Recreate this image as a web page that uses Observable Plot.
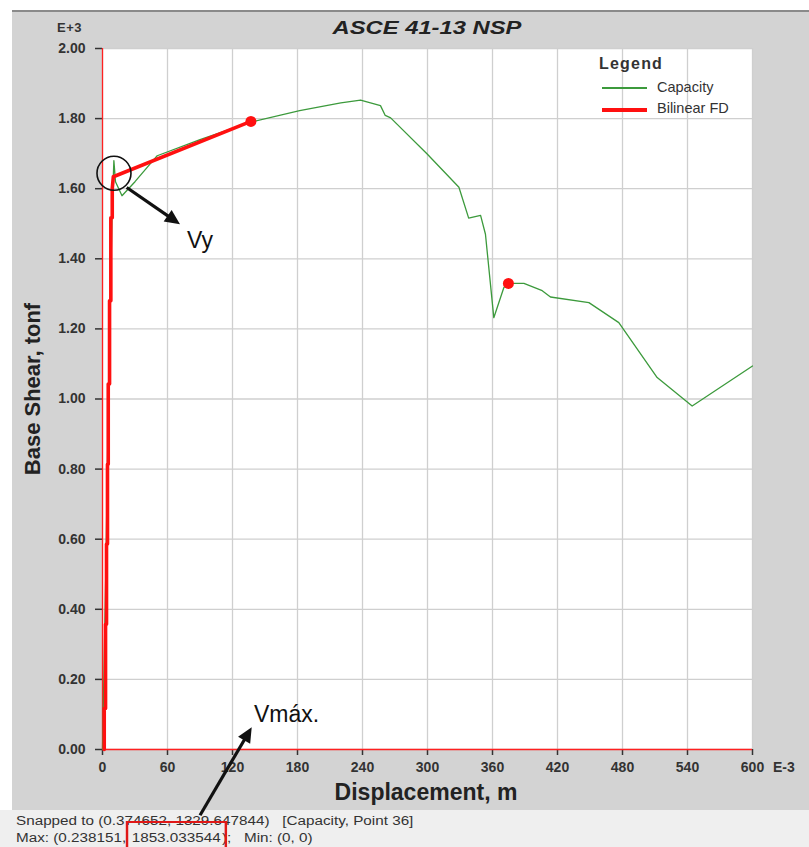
<!DOCTYPE html>
<html><head><meta charset="utf-8">
<script src="https://cdn.jsdelivr.net/npm/d3@7"></script>
<script src="https://cdn.jsdelivr.net/npm/@observablehq/plot@0.6"></script>
<style>
body{margin:0;background:#fff;font-family:"Liberation Sans",Arial,sans-serif;}
#wrap{position:relative;width:809px;height:847px;overflow:hidden;}
.abs{position:absolute;white-space:nowrap;line-height:1;}
.stat{transform-origin:0 0;transform:scaleX(1.22);}
</style></head><body>
<div id="wrap">
  <div class="abs" style="left:12px;top:10px;width:797px;height:800px;background:#d3d3d3;border-top:2px solid #8a8a8a;box-sizing:border-box;"></div>
  <div class="abs" style="left:0;top:810px;width:809px;height:37px;background:#efefef;"></div>
  <div id="chart" class="abs" style="left:0;top:0;"></div>
  <div class="abs" style="left:427px;top:18px;font-size:19px;font-weight:bold;font-style:italic;color:#222;transform:translateX(-50%) scaleX(1.25);">ASCE 41-13 NSP</div>
  <div class="abs" style="left:57px;top:21px;font-size:13px;font-weight:bold;color:#333;letter-spacing:0.5px;">E+3</div>
  <div class="abs" style="left:773px;top:760px;font-size:14px;font-weight:bold;color:#333;">E-3</div>
  <div class="abs" style="left:33px;top:389px;font-size:22px;font-weight:bold;color:#222;transform:translate(-50%,-50%) rotate(-90deg);">Base Shear, tonf</div>
  <div class="abs" style="left:426px;top:781px;font-size:23px;font-weight:bold;color:#222;transform:translateX(-50%);">Displacement, m</div>
  <div class="abs" style="left:599px;top:56px;font-size:16px;font-weight:bold;color:#333;letter-spacing:1.2px;">Legend</div>
  <div class="abs" style="left:602px;top:87px;width:45px;height:1.5px;background:#3c9a3c;"></div>
  <div class="abs" style="left:657px;top:80px;font-size:14.5px;color:#333;">Capacity</div>
  <div class="abs" style="left:602px;top:108px;width:45px;height:4px;background:#ff1010;"></div>
  <div class="abs" style="left:657px;top:101px;font-size:14.5px;color:#333;">Bilinear FD</div>
  <div class="abs" style="left:187px;top:229px;font-size:23px;color:#111;">Vy</div>
  <div class="abs" style="left:254px;top:703px;font-size:23px;color:#111;">Vmáx.</div>
  <div class="abs stat" style="left:16px;top:815px;font-size:12.5px;color:#333;">Snapped to (0.374652, 1329.647844)&nbsp;&nbsp;&nbsp;[Capacity, Point 36]</div>
  <div class="abs stat" style="left:16px;top:832px;font-size:12.5px;color:#333;">Max: (0.238151, <span style="outline:2px solid #e01818;outline-offset:2px;padding:6px 1px 10px 1px;">1853.033544</span>);&nbsp;&nbsp;&nbsp;Min: (0, 0)</div>
</div>
<script>
// Capacity curve (displacement in E-3 m, base shear in tonf)
const capX = [0, 3, 6, 9, 10.5, 12, 18, 30, 44, 50.5, 90, 137, 182, 220, 238.2, 256.6, 261, 266, 299.7, 329, 338, 349, 353.5, 361.2, 370.5, 374.7, 389, 405.9, 413.5, 449, 476.6, 512, 544.3, 600];
const capY = [0, 500, 1100, 1550, 1680, 1620, 1580, 1620, 1671, 1694, 1740, 1790, 1823, 1845, 1853, 1837, 1809, 1802, 1699, 1604, 1516, 1524, 1470, 1232, 1318, 1329.6, 1330, 1309, 1291, 1275, 1218, 1061, 980, 1094];
// Bilinear FD
const bilX = [1.6, 1.6, 2.8, 2.8, 3.7, 3.7, 4.6, 4.6, 5.3, 5.3, 6.5, 6.5, 7.7, 7.7, 9.0, 9.0, 10, 137];
const bilY = [0, 117, 117, 357, 357, 586, 586, 814, 814, 1043, 1043, 1280, 1280, 1517, 1517, 1600, 1634, 1792];
// Marked points
const dotX = [137, 374.7];
const dotY = [1792, 1329.6];
// Annotations
const circleX = [10.6], circleY = [1644];
const arrows = [
  {x1: 22.8, y1: 1602, x2: 72, y2: 1497},
  {x1: 90.5, y1: -189, x2: 138.2, y2: 62}
];
// Ticks
const xTicks = [0, 60, 120, 180, 240, 300, 360, 420, 480, 540, 600];
const yTicks = [0, 200, 400, 600, 800, 1000, 1200, 1400, 1600, 1800, 2000];

const cap = capX.map((x, i) => ({x, y: capY[i]}));
const bil = bilX.map((x, i) => ({x, y: bilY[i]}));
const dots = dotX.map((x, i) => ({x, y: dotY[i]}));
const circ = circleX.map((x, i) => ({x, y: circleY[i]}));

const chart = Plot.plot({
  width: 809, height: 847,
  marginLeft: 102, marginRight: 57, marginTop: 48, marginBottom: 98,
  style: {background: "transparent", fontFamily: "Liberation Sans, Arial, sans-serif", overflow: "visible"},
  x: {domain: [0, 600]},
  y: {domain: [0, 2000]},
  marks: [
    Plot.frame({fill: "white", stroke: null}),
    Plot.gridX(xTicks, {stroke: "#cfcfcf", strokeOpacity: 1, strokeWidth: 1.3}),
    Plot.gridY(yTicks, {stroke: "#cfcfcf", strokeOpacity: 1, strokeWidth: 1.3}),
    Plot.axisX(xTicks, {tickSize: 6, tickPadding: 7, fontSize: 14, fontWeight: "bold", fill: "#333", stroke: "#333", strokeWidth: 1.5, label: null, tickFormat: d => String(d)}),
    Plot.axisY(yTicks, {tickSize: 7, tickPadding: 10, fontSize: 14, fontWeight: "bold", fill: "#333", stroke: "#333", strokeWidth: 1.5, label: null, tickFormat: d => (d / 1000).toFixed(2)}),
    Plot.ruleX([0], {stroke: "#ff2020", strokeWidth: 1.3}),
    Plot.ruleY([0], {stroke: "#ff2020", strokeWidth: 1.3}),
    Plot.line(cap, {x: "x", y: "y", stroke: "#3c9a3c", strokeWidth: 1.3}),
    Plot.line(bil, {x: "x", y: "y", stroke: "#ff1010", strokeWidth: 3.6, strokeLinejoin: "round"}),
    Plot.dot(dots, {x: "x", y: "y", r: 5.5, fill: "#ff1010", stroke: null}),
    Plot.dot(circ, {x: "x", y: "y", r: 17, fill: "none", stroke: "#111", strokeWidth: 1.6})
  ]
});

// Arrows with filled heads, positioned through the plot's own scales
const sx = chart.scale("x"), sy = chart.scale("y");
const svg = d3.select(chart.tagName.toLowerCase() === "svg" ? chart : chart.querySelector("svg"));
const g = svg.append("g");
for (const a of arrows) {
  const X1 = sx.apply(a.x1), Y1 = sy.apply(a.y1), X2 = sx.apply(a.x2), Y2 = sy.apply(a.y2);
  const L = Math.hypot(X2 - X1, Y2 - Y1), ux = (X2 - X1) / L, uy = (Y2 - Y1) / L;
  const hl = 15, hw = 7;
  const bx = X2 - ux * hl, by = Y2 - uy * hl;
  g.append("line").attr("x1", X1).attr("y1", Y1).attr("x2", bx + ux * 2).attr("y2", by + uy * 2)
    .attr("stroke", "#111").attr("stroke-width", 3.2);
  g.append("polygon")
    .attr("points", [[X2, Y2], [bx - uy * hw, by + ux * hw], [bx + uy * hw, by - ux * hw]].map(p => p.join(",")).join(" "))
    .attr("fill", "#111");
}
document.getElementById("chart").appendChild(chart);
</script>
</body></html>
